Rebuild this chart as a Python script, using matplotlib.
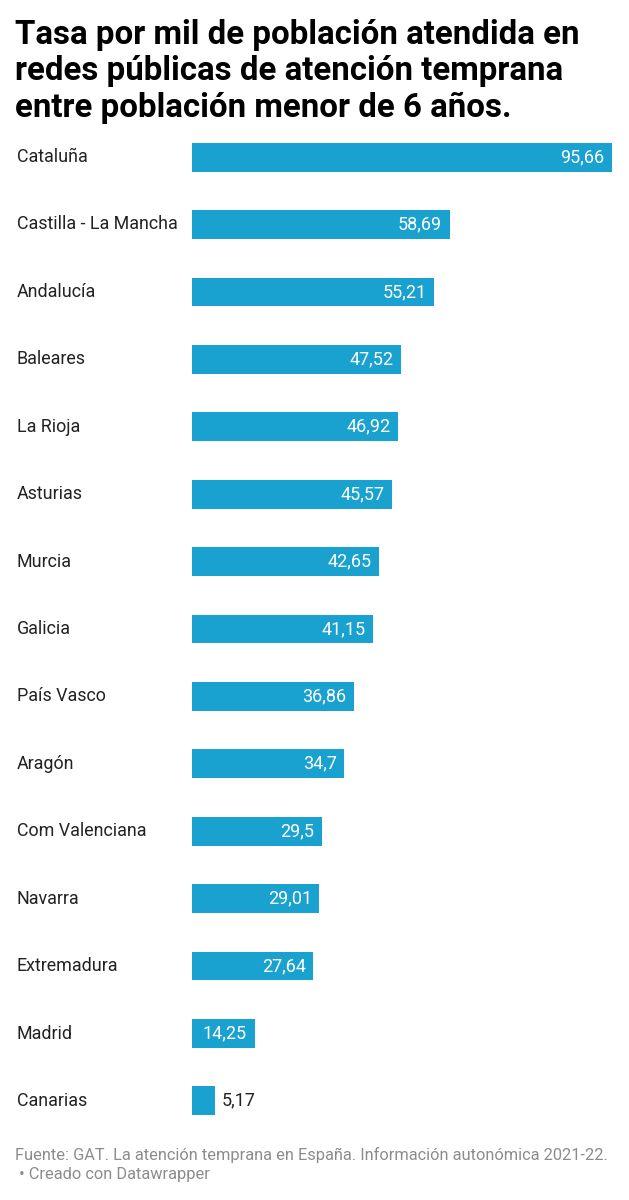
import matplotlib
matplotlib.use('Agg')
import matplotlib.pyplot as plt

regions = ['Cataluña', 'Castilla - La Mancha', 'Andalucía', 'Baleares', 'La Rioja',
           'Asturias', 'Murcia', 'Galicia', 'País Vasco', 'Aragón',
           'Com Valenciana', 'Navarra', 'Extremadura', 'Madrid', 'Canarias']
values = [95.66, 58.69, 55.21, 47.52, 46.92, 45.57, 42.65, 41.15, 36.86, 34.7,
          29.5, 29.01, 27.64, 14.25, 5.17]
value_labels = ['95,66', '58,69', '55,21', '47,52', '46,92', '45,57', '42,65', '41,15',
                '36,86', '34,7', '29,5', '29,01', '27,64', '14,25', '5,17']

W, H = 629, 1200
fig = plt.figure(figsize=(W / 100, H / 100), dpi=100)
fig.patch.set_facecolor('white')

# axes placed in pixel coords
left, right = 192, 612
top, bottom = 123.5, 1134.5
ax = fig.add_axes([left / W, 1 - bottom / H, (right - left) / W, (bottom - top) / H])

bar_color = '#19a2cf'
ypos = list(range(len(regions)))
bars = ax.barh(ypos, values, height=0.43, color=bar_color)
ax.set_xlim(0, max(values))
ax.set_ylim(len(regions) - 0.5, -0.5)
ax.axis('off')

for bar, val, lab in zip(bars, values, value_labels):
    yc = bar.get_y() + bar.get_height() / 2
    if val > 10:
        ax.text(val - 1.7, yc, lab, ha='right', va='center', color='white',
                fontsize=13, family='Roboto')
    else:
        ax.text(val + 1.6, yc, lab, ha='left', va='center', color='#222222',
                fontsize=13, family='Roboto')

for i, name in enumerate(regions):
    fig.text(17 / W, 1 - (157 + i * 67.43) / H, name, ha='left', va='center',
             fontsize=12.9, family='Roboto', color='#222222')

fig.text(15 / W, 1 - 19 / H,
         'Tasa por mil de población atendida en\nredes públicas de atención temprana\nentre población menor de 6 años.',
         ha='left', va='top', fontsize=23.8, fontweight='bold', family='Roboto',
         color='black', linespacing=1.17)

fig.text(15 / W, 1 - 1155 / H,
         'Fuente: GAT. La atención temprana en España. Información autonómica 2021-22.',
         ha='left', va='center', fontsize=11.8, family='Roboto', color='#8c8c8c')
fig.text(15 / W, 1 - 1175 / H, ' • Creado con Datawrapper',
         ha='left', va='center', fontsize=11.8, family=['Roboto', 'DejaVu Sans'],
         color='#8c8c8c')

fig.savefig('out.png', dpi=100, facecolor='white')
